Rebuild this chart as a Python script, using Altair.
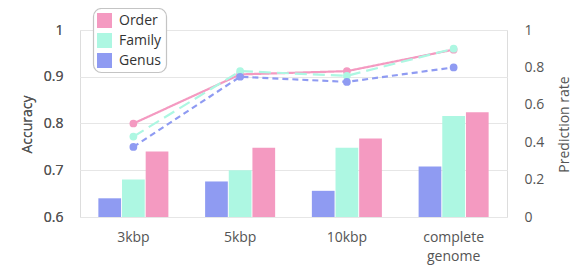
import altair as alt
import pandas as pd

categories = ["3kbp", "5kbp", "10kbp", "complete genome"]
levels = ["Order", "Family", "Genus"]
colors = ["#F49AC1", "#ADF7E2", "#8F9BF2"]

# Prediction rate (bars, right axis)
rate_order = [0.35, 0.37, 0.42, 0.56]
rate_family = [0.20, 0.25, 0.37, 0.54]
rate_genus = [0.10, 0.19, 0.14, 0.27]

# Accuracy (lines, left axis)
acc_order = [0.80, 0.905, 0.912, 0.958]
acc_family = [0.772, 0.912, 0.902, 0.96]
acc_genus = [0.75, 0.90, 0.889, 0.92]

rates = {"Order": rate_order, "Family": rate_family, "Genus": rate_genus}
accs = {"Order": acc_order, "Family": acc_family, "Genus": acc_genus}

rows = []
for lv in levels:
    for i, c in enumerate(categories):
        rows.append({"cat": c, "level": lv, "rate": rates[lv][i], "acc": accs[lv][i]})
df = pd.DataFrame(rows)

font = "Open Sans"
lab_col = "#555"

x = alt.X("cat:N", sort=categories, title=None,
          scale=alt.Scale(paddingInner=0.344, paddingOuter=0.172),
          axis=alt.Axis(labelAngle=0, domain=False, ticks=False, labelPadding=13,
                        labelFontSize=14, labelColor=lab_col, labelFont=font,
                        labelExpr="split(datum.label, ' ')", labelLineHeight=19))

color = alt.Color("level:N",
                  scale=alt.Scale(domain=levels, range=colors),
                  legend=alt.Legend(title=None, orient="none", legendX=13, legendY=-21,
                                    padding=4))

bars = alt.Chart(df).mark_bar().encode(
    x=x,
    xOffset=alt.XOffset("level:N", sort=["Genus", "Family", "Order"],
                        scale=alt.Scale(paddingInner=0.04, paddingOuter=0)),
    y=alt.Y("rate:Q", scale=alt.Scale(domain=[0, 1]), title="Prediction rate",
            axis=alt.Axis(orient="right", values=[0, 0.2, 0.4, 0.6, 0.8, 1], grid=False,
                          format=".1~f",
                          domain=False, ticks=False, labelPadding=17,
                          labelFontSize=14, labelColor=lab_col, labelFont=font,
                          titleFontSize=14, titleFont=font, titleColor=lab_col,
                          titleFontWeight="normal", titleAngle=270,
                          titleX=64, titleY=94)),
    color=color,
)

yacc = alt.Y("acc:Q", scale=alt.Scale(domain=[0.6, 1]), title="Accuracy",
             axis=alt.Axis(orient="left", values=[0.6, 0.7, 0.8, 0.9, 1], grid=True,
                           format=".1~f",
                           gridColor="#e6e6e6", domain=False, ticks=False, labelPadding=17,
                           labelFontSize=14, labelColor=lab_col, labelFont=font,
                           titleFontSize=14, titleFont=font, titleColor=lab_col,
                           titleFontWeight="normal", titleX=-46, titleY=94))

lines = alt.Chart(df).mark_line(strokeWidth=2.2).encode(
    x=x,
    y=yacc,
    color=alt.Color("level:N", scale=alt.Scale(domain=levels, range=colors), legend=None),
    strokeDash=alt.StrokeDash("level:N",
                              scale=alt.Scale(domain=levels, range=[[1, 0], [12, 6], [6, 4]]),
                              legend=None),
)

points = alt.Chart(df).mark_circle(size=60, opacity=1).encode(
    x=x,
    y=yacc,
    color=alt.Color("level:N", scale=alt.Scale(domain=levels, range=colors), legend=None),
)

# legend frame (decoration behind the legend entries)
frame = alt.Chart(pd.DataFrame({"k": [0]})).mark_rect(
    fill="#ffffff", stroke="#c4c4c4", strokeWidth=1.2, cornerRadius=8
).encode(x=alt.value(13.5), x2=alt.value(86.5), y=alt.value(-21.5), y2=alt.value(42.5))

chart = alt.layer(bars, lines, points, frame).resolve_scale(y="independent").properties(
    width=427, height=187,
    autosize=alt.AutoSizeParams(type="none"),
    padding={"left": 72, "top": 22, "right": 66, "bottom": 48},
).configure_view(stroke=None).configure(font=font).configure_legend(
    symbolType="square", symbolSize=225, symbolStrokeWidth=0,
    labelFontSize=14, labelFont=font, labelColor="#333",
    labelOffset=7, rowPadding=5,
)

chart.save("out.html", embed_options={"renderer": "svg", "actions": False})
